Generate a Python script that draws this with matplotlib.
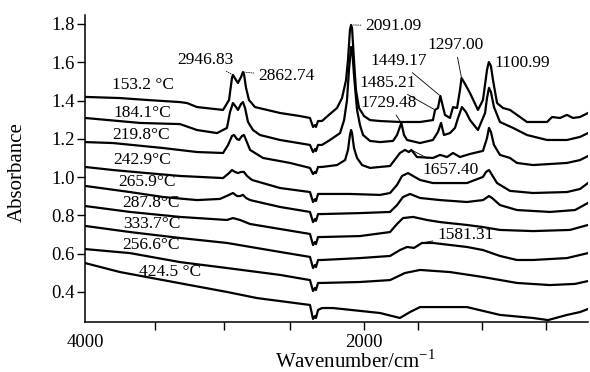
import numpy as np
import matplotlib.pyplot as plt

plt.rcParams['font.family'] = ['Liberation Serif', 'DejaVu Serif']
plt.rcParams['mathtext.fontset'] = 'custom'
plt.rcParams['mathtext.rm'] = 'Liberation Serif'

# spectra (wavenumber cm-1, absorbance)
wn_1 = [4000, 3749, 3555, 3318, 3268, 3196, 3009, 2966, 2945, 2938, 2916, 2902, 2880, 2866, 2859, 2844, 2823,
        2780, 2600, 2457, 2385, 2363, 2349, 2342, 2327, 2299, 2241, 2191, 2155, 2126, 2112, 2098, 2090, 2083,
        2069, 2055, 2033, 1997, 1954, 1882, 1739, 1595, 1502, 1487, 1466, 1449, 1416, 1380, 1358, 1329, 1308,
        1297, 1272, 1236, 1179, 1143, 1114, 1101, 1086, 1071, 1042, 999, 949, 877, 827, 683, 647, 590, 540,
        497, 446, 389]
ab_1 = [1.419, 1.413, 1.403, 1.392, 1.387, 1.366, 1.351, 1.403, 1.518, 1.534, 1.507, 1.492, 1.523, 1.549, 1.539,
        1.466, 1.403, 1.366, 1.335, 1.319, 1.309, 1.262, 1.272, 1.262, 1.293, 1.293, 1.330, 1.361, 1.413, 1.507,
        1.612, 1.769, 1.795, 1.779, 1.612, 1.455, 1.361, 1.319, 1.298, 1.293, 1.288, 1.288, 1.298, 1.351, 1.361,
        1.424, 1.325, 1.309, 1.366, 1.361, 1.455, 1.518, 1.487, 1.439, 1.351, 1.403, 1.560, 1.601, 1.581, 1.507,
        1.387, 1.361, 1.351, 1.314, 1.288, 1.288, 1.314, 1.309, 1.325, 1.309, 1.314, 1.335]

wn_2 = [4000, 3605, 3318, 3196, 3052, 2981, 2959, 2938, 2916, 2902, 2880, 2866, 2851, 2830, 2794, 2744, 2600,
        2385, 2363, 2349, 2342, 2327, 2299, 2241, 2169, 2140, 2119, 2105, 2090, 2083, 2069, 2047, 2026, 2004,
        1954, 1882, 1789, 1760, 1729, 1710, 1688, 1595, 1502, 1466, 1444, 1423, 1380, 1344, 1322, 1294, 1265,
        1236, 1179, 1128, 1114, 1100, 1086, 1064, 1021, 927, 827, 683, 540, 446, 389]
ab_2 = [1.309, 1.283, 1.277, 1.246, 1.230, 1.257, 1.340, 1.387, 1.366, 1.351, 1.382, 1.392, 1.361, 1.288, 1.246,
        1.220, 1.194, 1.168, 1.131, 1.147, 1.136, 1.168, 1.168, 1.194, 1.230, 1.298, 1.403, 1.560, 1.680, 1.675,
        1.534, 1.351, 1.272, 1.220, 1.189, 1.183, 1.189, 1.220, 1.283, 1.220, 1.194, 1.178, 1.194, 1.236, 1.283,
        1.220, 1.230, 1.257, 1.309, 1.366, 1.340, 1.298, 1.246, 1.335, 1.413, 1.466, 1.445, 1.366, 1.288, 1.257,
        1.220, 1.194, 1.194, 1.210, 1.230]

wn_3 = [4000, 3799, 3440, 3196, 3009, 2973, 2945, 2930, 2909, 2894, 2873, 2859, 2844, 2815, 2722, 2528, 2385,
        2363, 2349, 2342, 2327, 2299, 2191, 2133, 2112, 2098, 2090, 2083, 2069, 2047, 2011, 1954, 1810, 1739,
        1703, 1675, 1657, 1617, 1502, 1451, 1401, 1358, 1308, 1236, 1143, 1114, 1100, 1086, 1064, 1021, 949,
        899, 784, 540, 446, 389]
ab_3 = [1.183, 1.178, 1.152, 1.131, 1.126, 1.168, 1.215, 1.220, 1.199, 1.194, 1.215, 1.220, 1.194, 1.142, 1.100,
        1.074, 1.048, 1.016, 1.027, 1.021, 1.053, 1.053, 1.063, 1.089, 1.142, 1.220, 1.246, 1.230, 1.152, 1.100,
        1.063, 1.048, 1.058, 1.126, 1.142, 1.131, 1.142, 1.105, 1.100, 1.116, 1.105, 1.126, 1.105, 1.121, 1.137,
        1.204, 1.257, 1.236, 1.168, 1.116, 1.100, 1.074, 1.063, 1.074, 1.089, 1.110]

wn_4 = [4000, 3799, 3555, 3318, 3009, 2966, 2945, 2923, 2902, 2880, 2859, 2837, 2801, 2600, 2385, 2363, 2349,
        2342, 2327, 2299, 2098, 1882, 1810, 1760, 1724, 1681, 1645, 1595, 1502, 1258, 1143, 1121, 1100, 1086,
        1042, 949, 784, 540, 446, 389]
ab_4 = [1.053, 1.037, 1.021, 1.006, 0.995, 1.021, 1.037, 1.027, 1.021, 1.027, 1.027, 1.006, 0.985, 0.943, 0.922,
        0.870, 0.885, 0.875, 0.912, 0.912, 0.912, 0.907, 0.917, 0.959, 1.006, 1.021, 1.006, 0.985, 0.969, 0.969,
        1.001, 1.027, 1.037, 1.021, 0.969, 0.928, 0.917, 0.922, 0.938, 0.969]

wn_5 = [4000, 3677, 3440, 3196, 3031, 2966, 2938, 2909, 2887, 2866, 2844, 2815, 2600, 2385, 2363, 2349, 2342,
        2327, 2299, 2026, 1810, 1760, 1717, 1667, 1595, 1451, 1258, 1143, 1100, 1078, 1021, 899, 662, 482, 389]
ab_5 = [0.954, 0.922, 0.896, 0.880, 0.886, 0.907, 0.917, 0.901, 0.901, 0.907, 0.891, 0.880, 0.844, 0.818, 0.765,
        0.781, 0.771, 0.807, 0.807, 0.812, 0.818, 0.854, 0.896, 0.912, 0.891, 0.880, 0.870, 0.880, 0.901, 0.891,
        0.854, 0.828, 0.818, 0.828, 0.865]

wn_6 = [4000, 3677, 3318, 2981, 2938, 2887, 2815, 2600, 2385, 2363, 2349, 2342, 2327, 2299, 2026, 1810, 1760,
        1717, 1645, 1545, 1451, 1258, 1143, 1021, 784, 518, 389]
ab_6 = [0.849, 0.818, 0.792, 0.776, 0.786, 0.776, 0.755, 0.729, 0.703, 0.645, 0.661, 0.650, 0.687, 0.687, 0.692,
        0.713, 0.755, 0.786, 0.792, 0.776, 0.765, 0.750, 0.739, 0.724, 0.718, 0.724, 0.750]

wn_7 = [4000, 3677, 3318, 2981, 2600, 2385, 2363, 2349, 2342, 2327, 2299, 2026, 1810, 1739, 1688, 1638, 1581,
        1502, 1258, 1143, 1021, 899, 784, 540, 389]
ab_7 = [0.745, 0.713, 0.682, 0.656, 0.609, 0.583, 0.525, 0.541, 0.530, 0.567, 0.567, 0.577, 0.588, 0.619, 0.635,
        0.630, 0.656, 0.656, 0.635, 0.619, 0.588, 0.567, 0.567, 0.577, 0.603]

wn_8 = [4000, 3677, 3318, 2981, 2600, 2385, 2363, 2349, 2342, 2327, 2299, 2026, 1810, 1703, 1595, 1380, 1143,
        899, 662, 482, 389]
ab_8 = [0.624, 0.603, 0.556, 0.525, 0.489, 0.462, 0.405, 0.421, 0.410, 0.447, 0.447, 0.452, 0.462, 0.499, 0.515,
        0.504, 0.478, 0.447, 0.436, 0.442, 0.457]

wn_9 = [4000, 3749, 3440, 3174, 2981, 2765, 2385, 2363, 2349, 2342, 2327, 2299, 2220, 1882, 1739, 1667, 1595,
        1258, 1021, 784, 676, 540, 446, 389]
ab_9 = [0.551, 0.504, 0.462, 0.426, 0.400, 0.368, 0.332, 0.259, 0.274, 0.264, 0.306, 0.316, 0.316, 0.290, 0.264,
        0.295, 0.321, 0.321, 0.280, 0.264, 0.253, 0.280, 0.295, 0.311]

temps = ['153.2 °C', '184.1°C', '219.8°C', '242.9°C', '265.9°C', '287.8°C', '333.7°C', '256.6°C', '424.5 °C']
temp_x = [3584, 3591, 3598, 3591, 3555, 3526, 3519, 3526, 3390]
temp_y = [1.481, 1.335, 1.220, 1.089, 0.974, 0.865, 0.755, 0.645, 0.504]

peak_labels = ['2946.83', '2862.74', '2091.09', '1449.17', '1485.21', '1729.48', '1297.00', '1657.40', '1581.31']
peak_xy = [(2938, 1.534), (2866, 1.549), (2083, 1.795), (1449, 1.424), (1487, 1.351), (1729, 1.283),
           (1297, 1.518), (1657, 1.142), (1581, 0.656)]
label_xy = [(3340, 1.612), (2758, 1.528), (1990, 1.790), (1954, 1.607), (2033, 1.492), (2026, 1.387),
            (1545, 1.690), (1581, 1.037), (1473, 0.698)]
dotted = [True, True, True, False, False, False, False, False, False]

spectra = [(wn_1, ab_1), (wn_2, ab_2), (wn_3, ab_3), (wn_4, ab_4), (wn_5, ab_5),
           (wn_6, ab_6), (wn_7, ab_7), (wn_8, ab_8), (wn_9, ab_9)]

fig = plt.figure(figsize=(5.9, 3.72), dpi=100)
ax = fig.add_axes([0.1441, 0.1344, 0.8525, 0.8253])

for wn, ab in spectra:
    ax.plot(wn, ab, color='black', lw=1.6, solid_joinstyle='round')

for t, x, y in zip(temps, temp_x, temp_y):
    ax.text(x, y, t, fontsize=12.5, ha='center', va='center')

for lab, pxy, txy, dot in zip(peak_labels, peak_xy, label_xy, dotted):
    ax.annotate(lab, xy=pxy, xytext=txy, fontsize=12.5, ha='left', va='center',
                arrowprops=dict(arrowstyle='-', color='black', lw=0.6,
                                linestyle=':' if dot else '-', shrinkA=1, shrinkB=1))
ax.text(1057, 1.596, '1100.99', fontsize=12.5, ha='left', va='center')

ax.set_xlim(4000, 389)
ax.set_ylim(0.243, 1.847)
ax.spines['top'].set_visible(False)
ax.spines['right'].set_visible(False)
ax.spines['left'].set_linewidth(1.1)
ax.spines['bottom'].set_linewidth(1.1)

yt = np.arange(0.4, 1.81, 0.2)
ax.set_yticks(yt)
ax.set_yticklabels([f'{v:.1f}' for v in yt], fontsize=13.5)
ax.set_xticks([4000, 2000])
ax.set_xticklabels(['4000', '2000'], fontsize=13.5)
ax.set_xticks([3500, 3000, 2530, 1610, 1150, 690], minor=True)
ax.tick_params(axis='x', which='both', direction='out', length=5.5, width=1, pad=3)
ax.tick_params(axis='y', direction='out', length=5.5, width=1, pad=2)
ax.xaxis.get_major_ticks()[0].tick1line.set_visible(False)

fig.text(17 / 590, 1 - 172 / 372, 'Absorbance', rotation=90, fontsize=15, ha='center', va='center')
fig.text(355 / 590, 1 - 361 / 372, 'Wavenumber/cm$^{\\mathregular{-1}}$', fontsize=15, ha='center', va='center')

fig.savefig('out.png', dpi=100)
